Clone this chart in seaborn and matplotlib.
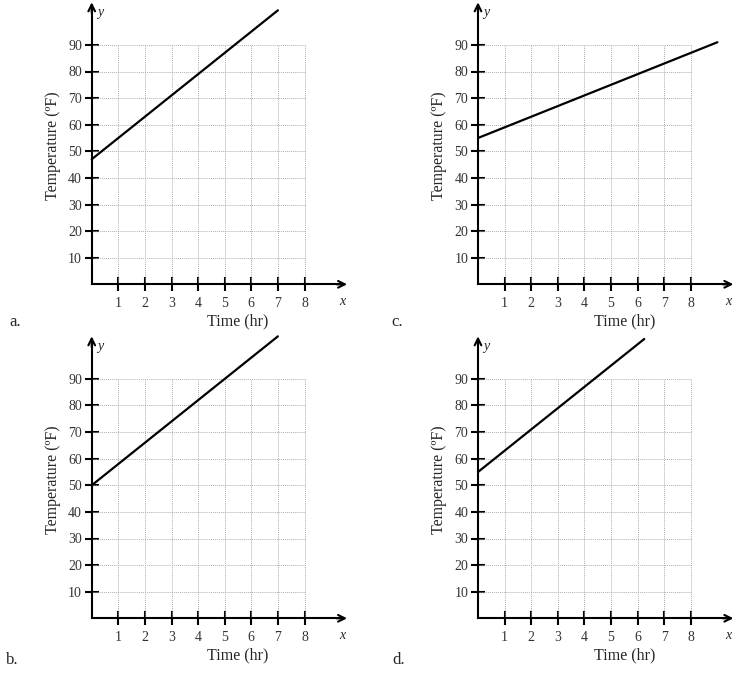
import matplotlib
matplotlib.use("Agg")
import matplotlib.pyplot as plt
import seaborn as sns

# line end points for each panel (hours, degrees F)
time_a = [0, 7]
temp_a = [47, 103]
time_b = [0, 7]
temp_b = [50, 106]
time_c = [0, 9]
temp_c = [55, 91]
time_d = [0, 6.25]
temp_d = [55, 105]

x_ticks = [1, 2, 3, 4, 5, 6, 7, 8]
y_ticks = [10, 20, 30, 40, 50, 60, 70, 80, 90]

sns.set_style("white")
plt.rcParams["font.family"] = ["Liberation Serif", "DejaVu Serif"]

W, H = 752, 673
fig = plt.figure(figsize=(W / 100, H / 100), dpi=100)

UX = 26.6   # px per hour
UY = 2.66   # px per degree
XLIM = (-1.6, 10.0)
YLIM = (-15, 110)

panels = [
    ("a.", time_a, temp_a, 91.7, 284.3, (15, 322)),
    ("c.", time_c, temp_c, 478.0, 284.3, (397, 322)),
    ("b.", time_b, temp_b, 91.7, 618.3, (12, 660)),
    ("d.", time_d, temp_d, 478.0, 618.3, (399, 660)),
]

for label, tx, ty, ox, oy, lab_pos in panels:
    left = ox + XLIM[0] * UX
    right = ox + XLIM[1] * UX
    top = oy - YLIM[1] * UY
    bottom = oy - YLIM[0] * UY
    ax = fig.add_axes([left / W, 1 - bottom / H, (right - left) / W, (bottom - top) / H])
    ax.set_xlim(*XLIM)
    ax.set_ylim(*YLIM)
    ax.patch.set_alpha(0)

    # dotted grid
    ax.vlines(x_ticks, 0, 90, colors="#b0b0b0", linestyles=(0, (1, 1)), lw=0.7)
    ax.hlines(y_ticks, 0, 8, colors="#b0b0b0", linestyles=(0, (1, 1)), lw=0.7)

    sns.lineplot(x=tx, y=ty, ax=ax, color="black", lw=1.6)

    for s in ["top", "right"]:
        ax.spines[s].set_visible(False)
    ax.spines["left"].set_position(("data", 0))
    ax.spines["bottom"].set_position(("data", 0))
    ax.spines["left"].set_bounds(0, 105)
    ax.spines["bottom"].set_bounds(0, 9.4)
    for s in ["left", "bottom"]:
        ax.spines[s].set_linewidth(1.5)
        ax.spines[s].set_color("black")

    ax.annotate("", xy=(9.6, 0), xytext=(9.2, 0),
                arrowprops=dict(arrowstyle="->", lw=1.5, color="black",
                                mutation_scale=12, shrinkA=0, shrinkB=0))
    ax.annotate("", xy=(0, 106), xytext=(0, 102),
                arrowprops=dict(arrowstyle="->", lw=1.5, color="black",
                                mutation_scale=12, shrinkA=0, shrinkB=0))

    ax.set_xticks(x_ticks)
    ax.set_yticks(y_ticks)
    ax.set_xticklabels([str(v) for v in x_ticks])
    ax.set_yticklabels([str(v) for v in y_ticks])
    ax.tick_params(bottom=True, left=True, direction="inout", length=10, width=1.5,
                   color="black", labelsize=10, labelcolor="#333333")
    ax.tick_params(axis="x", pad=4)
    ax.tick_params(axis="y", pad=2)
    ax.set_xlabel("")
    ax.set_ylabel("")

    ax.text(0.32, 102, "y", style="italic", fontsize=10, ha="center", va="center")
    ax.text(9.4, -6.6, "x", style="italic", fontsize=10, ha="center", va="center")
    ax.text(5.5, -14, "Time (hr)", fontsize=11.5, ha="center", va="center")
    ax.text(-1.45, 52, "Temperature (ºF)", fontsize=11.5, rotation=90,
            ha="center", va="center")

    fig.text(lab_pos[0] / W, 1 - lab_pos[1] / H, label, fontsize=12,
             ha="center", va="center")

fig.savefig("out.png", dpi=100)
